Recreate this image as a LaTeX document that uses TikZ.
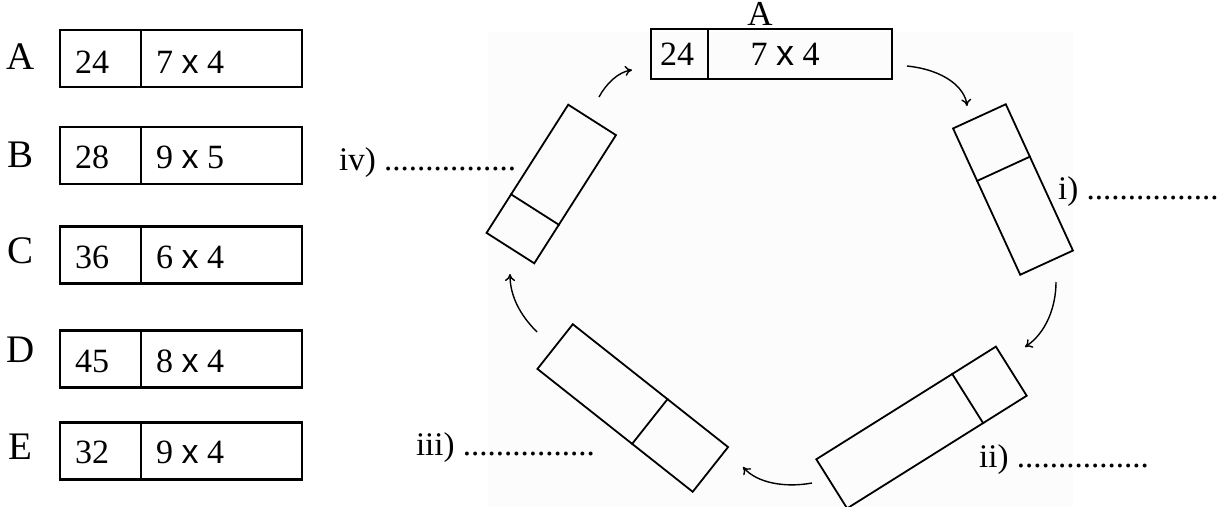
\documentclass[tikz,border=0pt]{standalone}
\usepackage{fontspec}
\setmainfont{Liberation Serif}
\newfontfamily\arialx{Liberation Sans}
\usetikzlibrary{arrows.meta,calc}
\newcommand\pxsize[1]{\fontsize{#1}{#1}\selectfont}
\begin{document}
\begin{tikzpicture}[x=1pt,y=-1pt,
  lbl/.style={font=\pxsize{39}, inner sep=0},
  num/.style={font=\pxsize{34}, inner sep=0},
  leftbox/.style={draw, line width=2.4pt, minimum width=242pt, minimum height=57pt, inner sep=0},
  rotbox/.style={draw, line width=1.8pt, inner sep=0},
  divline/.style={line width=1.8pt},
  leftdiv/.style={line width=2.4pt},
  arr/.style={-{To[length=7pt,width=10pt]}, line width=1.4pt},
  dotlbl/.style={font=\pxsize{33}, inner sep=0}]
\useasboundingbox (0,0) rectangle (1218,506);
\fill[black!1] (488,32) rectangle (1073,506);

% left column
\foreach \nm/\cy/\ly/\ty/\a in {A/58.5/57/62/24, B/155.5/155/157.5/28, C/255/251/257/36, D/359/350/361/45, E/451/447/452.5/32}{
  \node[leftbox] (box\nm) at (181,\cy) {};
  \draw[leftdiv] ($(box\nm.north west)+(82,0)$) -- ($(box\nm.south west)+(82,0)$);
  \node[lbl] (lab\nm) at (20.5,\ly) {\nm};
  \node[num] (n\nm) at (92,\ty) {\a};
}
\node[num, anchor=west] (eA) at (156,62) {7 {\arialx x} 4};
\node[num, anchor=west] (eB) at (156,157.5) {9 {\arialx x} 5};
\node[num, anchor=west] (eC) at (156,257) {6 {\arialx x} 4};
\node[num, anchor=west] (eD) at (156,361) {8 {\arialx x} 4};
\node[num, anchor=west] (eE) at (156,452.5) {9 {\arialx x} 4};

% top box A of the cycle
\node[rotbox, minimum width=241pt, minimum height=50pt] (tA) at (771.5,54) {};
\draw[divline] ($(tA.north west)+(58,0)$) -- ($(tA.south west)+(58,0)$);
\node[font=\pxsize{35}, inner sep=0] (tAl) at (760,14) {A};
\node[num] (tAn) at (677,54) {24};
\node[num] (tAe) at (785,54) {7 {\arialx\pxsize{36}x} 4};

% rotated boxes
\node[rotbox, rotate=-65.35, minimum width=161pt, minimum height=58pt] (bi) at (1013,189.5) {};
\draw[divline] ($(bi.north west)!0.36!(bi.north east)$) -- ($(bi.south west)!0.36!(bi.south east)$);
\node[rotbox, rotate=32.1, minimum width=212pt, minimum height=58pt] (bii) at (921.5,427.5) {};
\draw[divline] ($(bii.north west)!0.755!(bii.north east)$) -- ($(bii.south west)!0.755!(bii.south east)$);
\node[rotbox, rotate=-38.35, minimum width=198pt, minimum height=57pt] (biii) at (632.75,408) {};
\draw[divline] ($(biii.north west)!0.609!(biii.north east)$) -- ($(biii.south west)!0.609!(biii.south east)$);
\node[rotbox, rotate=57.5, minimum width=152pt, minimum height=56.6pt] (biv) at (551.25,184) {};
\draw[divline] ($(biv.north west)!0.303!(biv.north east)$) -- ($(biv.south west)!0.303!(biv.south east)$);

% answer labels
\node[dotlbl, anchor=west] (li) at (1058,192) {i) ................};
\node[dotlbl, anchor=west] (lii) at (979,460) {ii) ................};
\node[dotlbl, anchor=east] (liii) at (595,448) {iii) ................};
\node[dotlbl, anchor=west] (liv) at (339,163) {iv) ................};

% arrows
\coordinate (a1s) at (907,66);  \coordinate (a1e) at (967,106);
\coordinate (a2s) at (1056,282); \coordinate (a2e) at (1025,347);
\coordinate (a3s) at (812,483); \coordinate (a3e) at (743,467);
\coordinate (a4s) at (537,332); \coordinate (a4e) at (510,274);
\coordinate (a5s) at (599,97);  \coordinate (a5e) at (632,70);
\draw[arr] (a1s) .. controls (945,70) and (965,88) .. (a1e);
\draw[arr] (a2s) .. controls (1056,307) and (1046,333) .. (a2e);
\draw[arr] (a3s) .. controls (785,488) and (757,483) .. (a3e);
\draw[arr] (a4s) .. controls (520,315) and (510,296) .. (a4e);
\draw[arr] (a5s) .. controls (606,84) and (618,72) .. (a5e);
\end{tikzpicture}
\end{document}
